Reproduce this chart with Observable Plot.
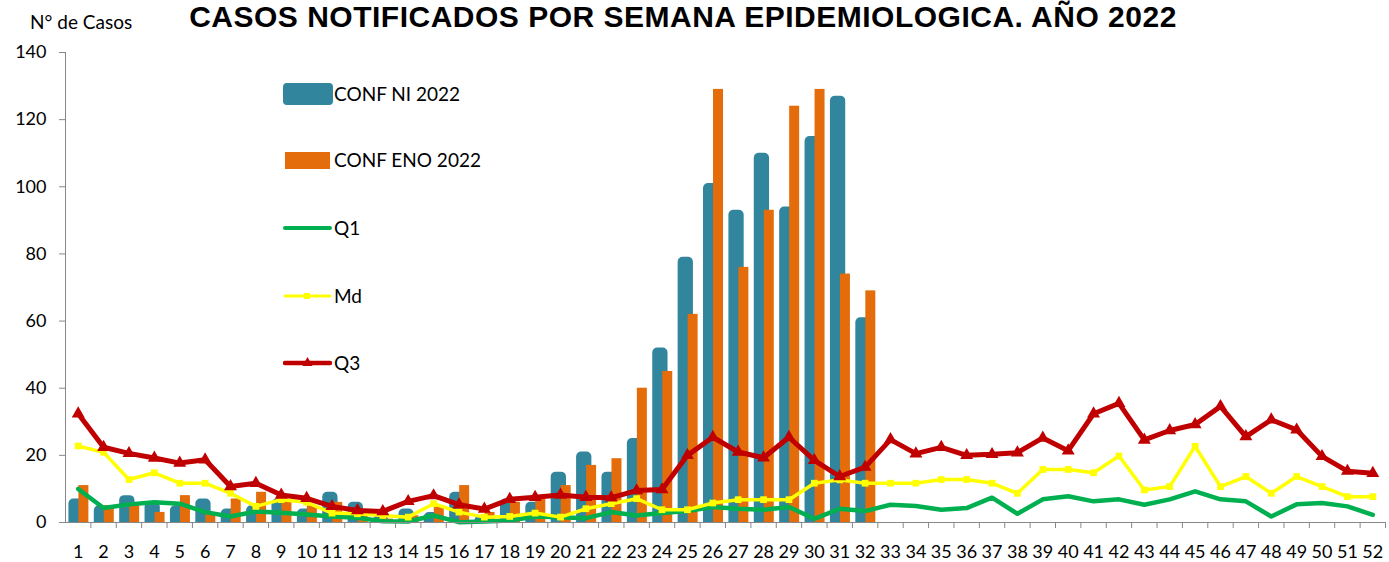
<!DOCTYPE html>
<html><head><meta charset="utf-8">
<script src="https://cdn.jsdelivr.net/npm/d3@7"></script>
<script src="https://cdn.jsdelivr.net/npm/@observablehq/plot@0.6"></script>
<style>
body{margin:0;background:#fff;}
#wrap{position:relative;width:1389px;height:562px;overflow:hidden;font-family:Lato,sans-serif;color:#000;}
#title{position:absolute;left:0;width:1366px;text-align:center;top:0px;font:bold 30px/34px "Liberation Sans",Arial,sans-serif;letter-spacing:0.5px;white-space:nowrap;}
#ylab{position:absolute;left:30px;top:12px;font:19px/19px Lato,sans-serif;white-space:nowrap;}
.lg{position:absolute;left:283px;height:22px;width:240px;}
.lg span.t{position:absolute;left:51px;top:0;font:19px/22px Lato,sans-serif;white-space:nowrap;}
.lg svg{position:absolute;left:0;top:0;}
#chart{position:absolute;left:0;top:0;}
</style></head>
<body>
<div id="wrap">
  <div id="chart"></div>
  <div id="title">CASOS NOTIFICADOS POR SEMANA EPIDEMIOLOGICA. AÑO 2022</div>
  <div id="ylab">N° de Casos</div>
  <div id="legend"></div>
</div>
<script>
const weeks = [1,2,3,4,5,6,7,8,9,10,11,12,13,14,15,16,17,18,19,20,21,22,23,24,25,26,
  27,28,29,30,31,32,33,34,35,36,37,38,39,40,41,42,43,44,45,46,47,48,49,50,51,52];
const confNI = [7,5,8,6,5,7,4,5,7,4,9,6,2,4,3,9,2,7,6,15,21,15,25,52,79,101,93,110,94,115,127,61];
const confENO = [11,5,5,3,8,3,7,9,6,5,6,3,1,2,5,11,3,6,7,11,17,19,40,45,62,129,76,93,124,129,74,69];
const q1 = [10.0,4.3,5.4,6.0,5.6,3.1,1.8,3.3,2.9,2.4, 1.8,1.4,0.4,0.3,2.1,0.1,0.3,0.6,1.8,1.6,
  1.3,3.1,2.1,2.8,3.4,4.6,4.1,3.8,4.6,1.1, 4.1,3.4,5.3,4.9,3.8,4.3,7.4,2.6,6.9,7.8,
  6.3,6.9,5.3,6.9,9.3,6.9,6.3,1.8,5.4,5.8,4.8,2.3];
const md = [22.8,20.9,12.8,14.8,11.7,11.7,8.7,4.8,6.8,6.0, 2.8,2.6,2.1,1.6,5.6,3.1,1.6,1.8,2.8,1.6,
  4.1,5.6,7.1,3.8,3.8,5.8,6.8,6.8,6.8,11.7, 12.7,11.7,11.7,11.7,12.8,12.8,11.7,8.7,15.8,15.8,
  14.8,19.8,9.7,10.7,22.7,10.7,13.7,8.7,13.7,10.7,7.7,7.7];
const q3 = [32.4,22.4,20.6,19.2,17.7,18.7,10.7,11.7,8.2,7.2, 4.8,3.6,3.3,6.3,8.0,5.3,4.0,6.9,7.5,8.2,
  7.5,7.4,9.5,9.8,20,25.4,21,19.3,25.4,18.5, 13.7,16.5,24.7,20.5,22.4,20,20.3,20.8,25.2,21.4,
  32.4,35.5,24.6,27.4,29.2,34.6,25.6,30.6,27.6,19.7,15.3,14.7];
const yTicks = [0,20,40,60,80,100,120,140];
const seriesNames = ["CONF NI 2022","CONF ENO 2022","Q1","Md","Q3"];
const colors = {ni:"#31859C", eno:"#E46C0A", q1:"#00B050", md:"#FFFF00", q3:"#C00000"};

const W = 1389, H = 562, mt = 52, mb = 40, ml = 65, mr = 4;
const bw = (W - ml - mr) / weeks.length;
const frameH = H - mt - mb;

const bars = confNI.map((v, i) => ({week: weeks[i], ni: v, eno: confENO[i]}));
const lines = weeks.map((w, i) => ({week: w, q1: q1[i], md: md[i], q3: q3[i]}));

const chart = Plot.plot({
  width: W, height: H,
  marginTop: mt, marginBottom: mb, marginLeft: ml, marginRight: mr,
  style: {fontFamily: "Lato, sans-serif", fontSize: "18px", color: "#000", background: "transparent"},
  x: {type: "band", domain: weeks, padding: 0, round: false},
  y: {domain: [0, 140]},
  marks: [
    Plot.barY(bars, {x: "week", y: "ni", fill: colors.ni, insetLeft: 3.4, insetRight: 6.7, rx: 5, insetBottom: -8, clip: true}),
    Plot.barY(bars, {x: "week", y: "eno", fill: colors.eno, insetLeft: 13.4, insetRight: 2, clip: true}),
    Plot.line(lines, {x: "week", y: "q1", stroke: colors.q1, strokeWidth: 4.5}),
    Plot.line(lines, {x: "week", y: "md", stroke: colors.md, strokeWidth: 3.5}),
    Plot.dot(lines, {x: "week", y: "md", symbol: "square", r: 3.8, fill: colors.md}),
    Plot.line(lines, {x: "week", y: "q3", stroke: colors.q3, strokeWidth: 5}),
    Plot.dot(lines, {x: "week", y: "q3", symbol: "triangle", r: 4.8, fill: colors.q3}),
    Plot.ruleY([0], {stroke: "#888"}),
    Plot.ruleX([weeks[0]], {x: d => d, dx: -bw / 2, stroke: "#888"}),
    Plot.ruleX(weeks, {x: d => d, dx: bw / 2, insetTop: frameH, insetBottom: -6, stroke: "#888"}),
    Plot.axisY({ticks: yTicks, tickSize: 6, tickPadding: 13, stroke: "#888", fill: "#000", label: null}),
    Plot.axisX({tickSize: 0, tickPadding: 23, fill: "#000", label: null})
  ]
});
document.getElementById("chart").appendChild(chart);

// legend
const legendItems = [
  {name: seriesNames[0], key: "ni", kind: "bar", cy: 94},
  {name: seriesNames[1], key: "eno", kind: "bar2", cy: 160},
  {name: seriesNames[2], key: "q1", kind: "line", cy: 228},
  {name: seriesNames[3], key: "md", kind: "sq", cy: 296},
  {name: seriesNames[4], key: "q3", kind: "tri", cy: 363}
];
const lg = document.getElementById("legend");
for (const it of legendItems) {
  const d = document.createElement("div");
  d.className = "lg";
  d.style.top = (it.cy - 11) + "px";
  const c = colors[it.key];
  let sw = "";
  if (it.kind === "bar") sw = `<rect x="0" y="0" width="50" height="22" rx="4" fill="${c}"/>`;
  else if (it.kind === "bar2") sw = `<rect x="2" y="3" width="45" height="17" fill="${c}"/>`;
  else if (it.kind === "line") sw = `<line x1="2" x2="47" y1="11" y2="11" stroke="${c}" stroke-width="4" stroke-linecap="round"/>`;
  else if (it.kind === "sq") sw = `<line x1="2" x2="47" y1="11" y2="11" stroke="${c}" stroke-width="3" stroke-linecap="round"/><rect x="21" y="8" width="6" height="6" fill="${c}"/>`;
  else sw = `<line x1="2" x2="47" y1="11" y2="11" stroke="${c}" stroke-width="4.5" stroke-linecap="round"/><path d="M24.5,5 L29.5,14 L19.5,14 Z" fill="${c}"/>`;
  d.innerHTML = `<svg width="50" height="22">${sw}</svg><span class="t">${it.name}</span>`;
  lg.appendChild(d);
}
</script>
</body></html>
